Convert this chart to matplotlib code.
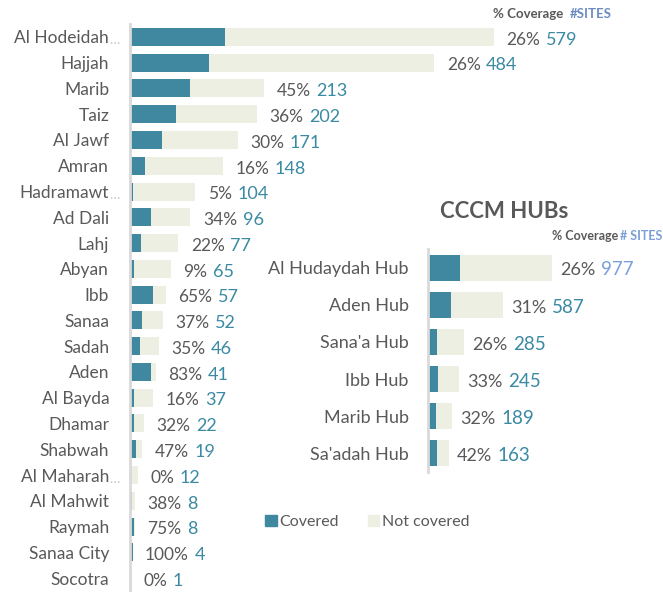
import matplotlib
matplotlib.use("Agg")
import matplotlib.pyplot as plt
from matplotlib.patches import Patch

plt.rcParams['font.family'] = ['Lato', 'DejaVu Sans']

# governorates
gov_names = ["Al Hodeidah", "Hajjah", "Marib", "Taiz", "Al Jawf", "Amran", "Hadramawt",
             "Ad Dali", "Lahj", "Abyan", "Ibb", "Sanaa", "Sadah", "Aden", "Al Bayda",
             "Dhamar", "Shabwah", "Al Maharah", "Al Mahwit", "Raymah", "Sanaa City", "Socotra"]
gov_sites = [579, 484, 213, 202, 171, 148, 104, 96, 77, 65, 57, 52, 46, 41, 37, 22, 19, 12, 8, 8, 4, 1]
gov_pct = [26, 26, 45, 36, 30, 16, 5, 34, 22, 9, 65, 37, 35, 83, 16, 32, 47, 0, 38, 75, 100, 0]
gov_cut = ["Al Hodeidah", "Hadramawt", "Al Maharah"]

# hubs
hub_names = ["Al Hudaydah Hub", "Aden Hub", "Sana'a Hub", "Ibb Hub", "Marib Hub", "Sa'adah Hub"]
hub_sites = [977, 587, 285, 245, 189, 163]
hub_pct = [26, 31, 26, 33, 32, 42]

teal = "#3F88A0"
beige = "#EEEFE3"
grey = "#595959"
numcol = "#3A8AA3"
blue = "#7B9FD9"

fig = plt.figure(figsize=(6.63, 5.92), dpi=100)


def bars(ax, names, sites, pct, pct_off, fs, numcolors):
    y = list(range(len(names)))
    covered = [s * p / 100 for s, p in zip(sites, pct)]
    ax.barh(y, sites, height=0.7, color=beige)
    ax.barh(y, covered, height=0.7, color=teal)
    ax.set_ylim(len(names) - 0.5, -0.5)
    ax.set_yticks(y)
    ax.set_yticklabels(names, fontsize=fs, color=grey)
    ax.tick_params(axis='y', length=0)
    ax.set_xticks([])
    for s in ['top', 'right', 'bottom']:
        ax.spines[s].set_visible(False)
    ax.spines['left'].set_color("#D9D9D9")
    ax.spines['left'].set_linewidth(2)
    for i in y:
        t = ax.annotate(f"{pct[i]}%", xy=(sites[i], i), xytext=(pct_off, -2),
                        textcoords='offset points', va='center', ha='left',
                        fontsize=fs, color=grey)
        ax.annotate(str(sites[i]), xy=(1, 0), xycoords=t, xytext=(4, 0),
                    textcoords='offset points', va='bottom', ha='left',
                    fontsize=fs + 0.5, color=numcolors[i])


# left chart
ax1 = fig.add_axes([130 / 663, 1 / 592, 503 / 663, 567 / 592])
ax1.set_xlim(0, 800)
bars(ax1, gov_names, gov_sites, gov_pct, 9, 12.5, [numcol] * len(gov_names))
ax1.tick_params(axis='y', pad=15)
for lab in ax1.get_yticklabels():
    if lab.get_text() in gov_cut:
        ax1.annotate("…", xy=(1, 0), xycoords=lab, xytext=(0, 0),
                     textcoords='offset points', va='bottom', ha='left',
                     fontsize=10, color="#C8C8C8")

# right chart
ax2 = fig.add_axes([428 / 663, 120 / 592, 229 / 663, 223 / 592])
ax2.set_xlim(0, 1800)
bars(ax2, hub_names, hub_sites, hub_pct, 6, 13, [blue] + [numcol] * 5)
ax2.tick_params(axis='y', pad=14)

# headers
fig.text(493 / 663, 1 - 14 / 592, "% Coverage", fontsize=9.5, fontweight='bold',
         color=grey, va='center', ha='left')
fig.text(570 / 663, 1 - 14 / 592, "#SITES", fontsize=9.5, fontweight='bold',
         color="#6B8CC0", va='center', ha='left')
fig.text(440 / 663, 1 - 212 / 592, "CCCM HUBs", fontsize=16, fontweight='bold',
         color=grey, va='center', ha='left')
fig.text(662 / 663, 1 - 236 / 592, "# SITES", fontsize=9, fontweight='bold',
         color=blue, va='center', ha='right')
fig.text(618 / 663, 1 - 236 / 592, "% Coverage", fontsize=9, fontweight='bold',
         color=grey, va='center', ha='right')

# legend
handles = [Patch(color=teal, label="Covered"), Patch(color=beige, label="Not covered")]
leg = fig.legend(handles=handles, loc='center left', bbox_to_anchor=(251 / 663, 1 - 522 / 592),
                 ncol=2, frameon=False, fontsize=11.5, handlelength=0.7, handleheight=0.7,
                 handletextpad=0.2, columnspacing=1.8)
for t in leg.get_texts():
    t.set_color(grey)

fig.savefig("out.png", dpi=100)
